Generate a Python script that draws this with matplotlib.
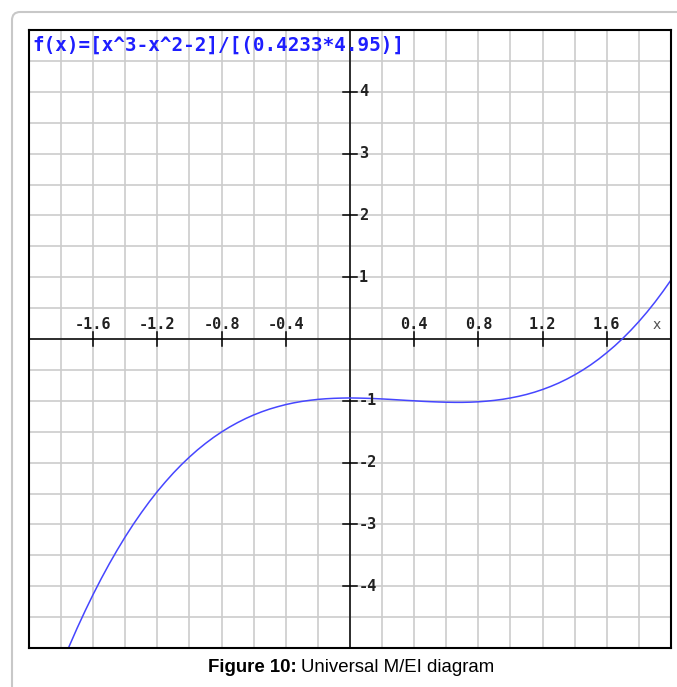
import numpy as np
import matplotlib
matplotlib.use('Agg')
import matplotlib.pyplot as plt
from matplotlib.patches import FancyBboxPatch

curve_x = [-1.80, -1.75, -1.70, -1.65, -1.60, -1.55, -1.50, -1.45, -1.40, -1.35,
           -1.30, -1.25, -1.20, -1.15, -1.10, -1.05, -1.00, -0.95, -0.90, -0.85,
           -0.80, -0.75, -0.70, -0.65, -0.60, -0.55, -0.50, -0.45, -0.40, -0.35,
           -0.30, -0.25, -0.20, -0.15, -0.10, -0.05, 0.00, 0.05, 0.10, 0.15,
           0.20, 0.25, 0.30, 0.35, 0.40, 0.45, 0.50, 0.55, 0.60, 0.65,
           0.70, 0.75, 0.80, 0.85, 0.90, 0.95, 1.00, 1.05, 1.10, 1.15,
           1.20, 1.25, 1.30, 1.35, 1.40, 1.45, 1.50, 1.55, 1.60, 1.65,
           1.70, 1.75, 1.80, 1.85, 1.90, 1.95, 2.00]
curve_y = [-5.284, -4.974, -4.678, -4.398, -4.131, -3.878, -3.639, -3.413, -3.199, -2.998,
           -2.810, -2.632, -2.466, -2.312, -2.167, -2.033, -1.909, -1.794, -1.689, -1.592,
           -1.504, -1.424, -1.352, -1.287, -1.229, -1.178, -1.133, -1.095, -1.061, -1.033,
           -1.010, -0.992, -0.977, -0.967, -0.960, -0.956, -0.954, -0.956, -0.959, -0.964,
           -0.970, -0.977, -0.985, -0.993, -1.000, -1.008, -1.014, -1.019, -1.023, -1.025,
           -1.025, -1.022, -1.016, -1.006, -0.993, -0.976, -0.954, -0.928, -0.897, -0.860,
           -0.817, -0.768, -0.713, -0.650, -0.580, -0.503, -0.418, -0.324, -0.221, -0.110,
           0.011, 0.142, 0.283, 0.434, 0.596, 0.770, 0.954]

x_ticks = [-1.6, -1.2, -0.8, -0.4, 0.4, 0.8, 1.2, 1.6]
x_labels = ['-1.6', '-1.2', '-0.8', '-0.4', '0.4', '0.8', '1.2', '1.6']
y_ticks = [4, 3, 2, 1, -1, -2, -3, -4]
y_labels = ['4', '3', '2', '1', '-1', '-2', '-3', '-4']

title = 'f(x)=[x^3-x^2-2]/[(0.4233*4.95)]'

fig = plt.figure(figsize=(6.77, 6.87), dpi=100)

# outer light gray frame (rounded top-left corner, runs off the image)
frame = FancyBboxPatch((12/677, -0.2), 1.2, 1 - 12/687 + 0.2,
                       boxstyle='round,pad=0,rounding_size=0.012',
                       transform=fig.transFigure, facecolor='none',
                       edgecolor='#c8c8c8', linewidth=1.5, zorder=0)
fig.patches.append(frame)

ax = fig.add_axes([29/677, 39/687, 642/677, 618/687])
ax.set_xlim(-2, 2)
ax.set_ylim(-5, 5)
ax.set_xticks(np.arange(-2, 2.001, 0.2))
ax.set_yticks(np.arange(-5, 5.001, 0.5))
ax.tick_params(length=0, labelbottom=False, labelleft=False)
ax.grid(True, color='#cccccc', linewidth=1.2)
ax.set_axisbelow(True)
for s in ax.spines.values():
    s.set_color('black')
    s.set_linewidth(1.5)

ax.axhline(0, color='black', linewidth=1.1)
ax.axvline(0, color='black', linewidth=1.1)

# tick marks and labels on the axes
for xt, lab in zip(x_ticks, x_labels):
    ax.plot([xt, xt], [-0.12, 0.12], color='black', linewidth=1.1)
    ax.text(xt, 0.24, lab, ha='center', va='center', family='DejaVu Sans Mono',
            fontweight='bold', fontsize=11, color='#222222')
for yt, lab in zip(y_ticks, y_labels):
    ax.plot([-0.045, 0.045], [yt, yt], color='black', linewidth=1.1)
    ax.text(0.055, yt, lab, ha='left', va='center', family='DejaVu Sans Mono',
            fontweight='bold', fontsize=11, color='#222222')

ax.text(1.91, 0.22, 'x', ha='center', va='center', fontsize=10, color='#555555')

ax.plot(curve_x, curve_y, color='#4646ff', linewidth=1.1, clip_on=True)

ax.text(0.006, 0.976, title, transform=ax.transAxes, ha='left', va='center',
        family='DejaVu Sans Mono', fontweight='bold', fontsize=13.9, color='#1e1eff')

# caption, bold part then normal part, centred as a whole
fig.canvas.draw()
r = fig.canvas.get_renderer()
cap_y = 1 - 668/687
t1 = fig.text(0, cap_y, 'Figure 10:', family='Liberation Sans',
              fontweight='bold', fontsize=13.4, ha='left', va='center')
t2 = fig.text(0, cap_y, 'Universal M/EI diagram', family='Liberation Sans',
              fontsize=13.4, ha='left', va='center')
w1 = t1.get_window_extent(renderer=r).width
w2 = t2.get_window_extent(renderer=r).width
gap = 4
x0 = 351 - (w1 + gap + w2) / 2
t1.set_x(x0 / 677)
t2.set_x((x0 + w1 + gap) / 677)

fig.savefig('out.png', dpi=100)
